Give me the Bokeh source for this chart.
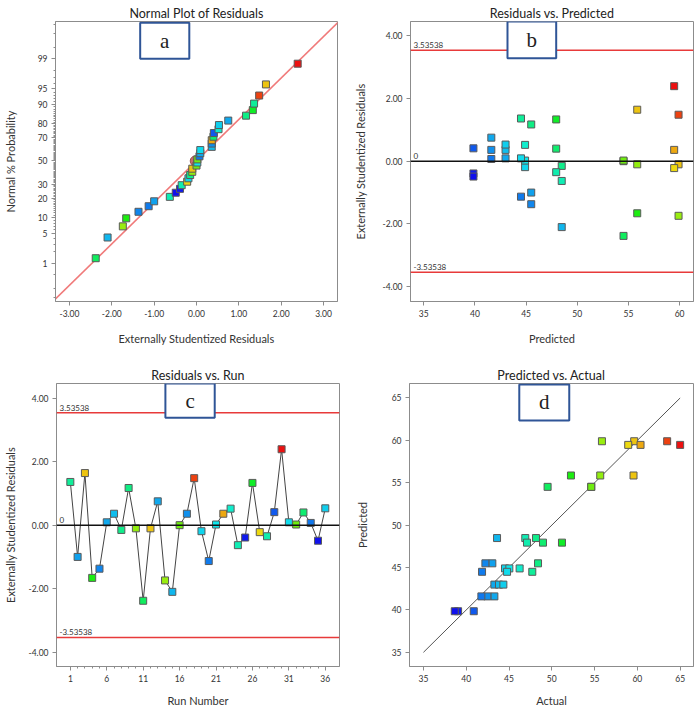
import colorsys
from statistics import NormalDist

from bokeh.plotting import figure
from bokeh.layouts import column, row
from bokeh.models import (ColumnDataSource, Range1d, FixedTicker, NumeralTickFormatter,
                          Span, Label, BoxAnnotation, CustomJSTickFormatter)
from bokeh.transform import linear_cmap
from bokeh.embed import file_html
from bokeh.resources import INLINE

# ---------------- data ----------------
run = list(range(1, 37))
residual = [1.36, -1.00, 1.64, -1.66, -1.37, 0.09, 0.36, -0.15, 1.17, -0.10,
            -2.38, -0.10, 0.75, -1.74, -2.10, 0.00, 0.36, 1.48, -0.19, -1.13,
            0.02, 0.36, 0.52, -0.63, -0.39, 1.33, -0.22, -0.35, 0.41, 2.39,
            0.09, 0.02, 0.40, 0.07, -0.49, 0.53]
predicted = [44.50, 45.50, 55.86, 55.86, 45.50, 42.99, 42.99, 48.48, 45.50, 55.86,
             54.52, 59.90, 41.60, 59.90, 48.48, 54.52, 41.60, 59.90, 44.90, 44.50,
             44.90, 59.47, 44.90, 48.48, 39.85, 47.94, 59.47, 47.94, 39.85, 59.47,
             44.50, 54.52, 47.94, 41.60, 39.85, 42.99]
actual = [47.72, 43.05, 59.55, 52.24, 42.24, 43.29, 43.83, 48.15, 48.39, 55.66,
          49.51, 59.63, 43.29, 55.86, 43.60, 54.61, 42.47, 63.48, 44.53, 41.85,
          45.04, 60.37, 46.24, 46.90, 39.05, 51.19, 58.93, 47.10, 40.88, 65.00,
          44.77, 54.61, 48.97, 41.77, 38.66, 44.34]
limit = 3.53538
normal_line_slope = 0.938

prob_major = [1, 5, 10, 20, 30, 50, 70, 80, 90, 95, 99]
prob_minor = ([0.1, 0.2, 0.5, 2, 3, 4, 6, 7, 8, 9] + list(range(11, 90))
              + [91, 92, 93, 94, 96, 97, 98, 99.5, 99.8, 99.9])
res_ticks = [-3, -2, -1, 0, 1, 2, 3]
stud_ticks = [-4, -2, 0, 2, 4]
pred_ticks = [35, 40, 45, 50, 55, 60]
run_ticks = [1, 6, 11, 16, 21, 26, 31, 36]
pa_ticks = [35, 40, 45, 50, 55, 60, 65]
diag = [35, 65]

# ---------------- styling ----------------
FONT = "Lato"
GRAY = "#8c8c8c"
TXT = "#333333"

palette = []
for i in range(256):
    h = 240.0 * (1 - i / 255) / 360.0
    r, g, b = colorsys.hsv_to_rgb(h, 0.93, 0.93)
    palette.append("#%02x%02x%02x" % (int(r * 255), int(g * 255), int(b * 255)))

cmap = linear_cmap("actual", palette, min(actual), max(actual))

nd = NormalDist()
n = len(residual)
order = sorted(range(n), key=lambda i: residual[i])
src_norm = ColumnDataSource(dict(
    res=[residual[i] for i in order],
    z=[nd.inv_cdf((k + 0.5) / n) for k in range(n)],
    actual=[actual[i] for i in order],
))
src = ColumnDataSource(dict(run=run, residual=residual, predicted=predicted, actual=actual))


def make_fig(title, w, h, xr, yr, borders):
    l, r, t, b = borders
    p = figure(width=w, height=h, x_range=Range1d(*xr), y_range=Range1d(*yr),
               output_backend="svg", toolbar_location=None, title=title,
               min_border_left=l, min_border_right=r, min_border_top=t, min_border_bottom=b)
    p.title.align = "center"
    p.title.text_font = FONT
    p.title.text_font_size = "12.5px"
    p.title.text_font_style = "normal"
    p.title.text_color = "#222222"
    p.title.standoff = 2
    p.outline_line_color = GRAY
    p.outline_line_width = 1
    p.xgrid.visible = False
    p.ygrid.visible = False
    for ax in p.axis:
        ax.axis_line_color = GRAY
        ax.major_tick_line_color = GRAY
        ax.minor_tick_line_color = None
        ax.major_tick_out = 4
        ax.major_tick_in = 0
        ax.minor_tick_out = 2
        ax.minor_tick_in = 0
        ax.major_label_text_font = FONT
        ax.major_label_text_font_size = "8.5px"
        ax.major_label_text_color = TXT
        ax.axis_label_text_font = FONT
        ax.axis_label_text_font_size = "11px"
        ax.axis_label_text_font_style = "normal"
        ax.axis_label_text_color = TXT
        ax.major_label_standoff = 4
    return p


def tag(p, letter, left, right, bottom, top):
    p.add_layout(BoxAnnotation(left=left, right=right, bottom=bottom, top=top,
                               fill_color="white", fill_alpha=1.0,
                               line_color="#2f5597", line_width=2, line_alpha=1.0))
    p.add_layout(Label(x=(left + right) / 2, y=(bottom + top) / 2, text=letter,
                       text_align="center", text_baseline="middle",
                       text_font="Liberation Serif", text_font_size="21px", text_color="#222222"))


def sq(p, x, y, source):
    p.scatter(x, y, source=source, marker="square", size=7, fill_color=cmap,
              line_color="#5a5a5a", line_width=1)


def limits(p, x0):
    for loc, txt, col in [(limit, "3.53538", "#e83a3a"), (-limit, "-3.53538", "#e83a3a"), (0, "0", "#111111")]:
        p.add_layout(Span(location=loc, dimension="width", line_color=col, line_width=1.5))
        p.add_layout(Label(x=x0, y=loc, text=txt, x_offset=3, y_offset=2, text_baseline="bottom",
                           text_font=FONT, text_font_size="8px", text_color=TXT))


# ---------------- (a) Normal plot ----------------
za = [nd.inv_cdf(v / 100) for v in prob_major]
zm = [nd.inv_cdf(v / 100) for v in prob_minor]
pa = make_fig("Normal Plot of Residuals", 350, 355, (-3.33, 3.33), (-3.18, 3.155), (55, 13, 21, 54))
pa.xaxis.axis_label = "Externally Studentized Residuals"
pa.yaxis.axis_label = "Normal % Probability"
pa.xaxis.ticker = FixedTicker(ticks=res_ticks)
pa.xaxis.formatter = NumeralTickFormatter(format="0.00")
pa.yaxis.ticker = FixedTicker(ticks=za, minor_ticks=zm)
pa.yaxis.minor_tick_line_color = GRAY
pa.yaxis.formatter = CustomJSTickFormatter(
    args=dict(zs=za, labs=[str(v) for v in prob_major]),
    code="let b=0; for (let i=0;i<zs.length;i++){ if (Math.abs(zs[i]-tick)<Math.abs(zs[b]-tick)) b=i; } return labs[b];")
pa.xaxis.axis_label_standoff = 12
pa.yaxis.axis_label_standoff = 18
lx = [-3.4, 3.4]
pa.line(lx, [normal_line_slope * v for v in lx], line_color="#f07a7a", line_width=1.6)
pa.scatter([-0.03], [0.0], size=10, marker="circle", fill_color="#c86a6a", line_color="#9a4a4a")
sq(pa, "res", "z", src_norm)
tag(pa, "a", -1.33, -0.17, 2.31, 3.125)

# ---------------- (b) Residuals vs Predicted ----------------
pb = make_fig("Residuals vs. Predicted", 350, 355, (33.7, 61.36), (-4.47, 4.45), (58, 7, 17, 51))
pb.xaxis.axis_label = "Predicted"
pb.yaxis.axis_label = "Externally Studentized Residuals"
pb.xaxis.ticker = FixedTicker(ticks=pred_ticks)
pb.yaxis.ticker = FixedTicker(ticks=stud_ticks)
pb.yaxis.formatter = NumeralTickFormatter(format="0.00")
pb.xaxis.axis_label_standoff = 12
pb.yaxis.axis_label_standoff = 13
limits(pb, 33.7)
sq(pb, "predicted", "residual", src)
tag(pb, "b", 43.18, 47.94, 3.28, 4.45)

# ---------------- (c) Residuals vs Run ----------------
pc = make_fig("Residuals vs. Run", 350, 356, (-0.9, 37.95), (-4.45, 4.46), (53, 11, 24, 45))
pc.xaxis.axis_label = "Run Number"
pc.yaxis.axis_label = "Externally Studentized Residuals"
pc.xaxis.ticker = FixedTicker(ticks=run_ticks, minor_ticks=run)
pc.xaxis.minor_tick_line_color = GRAY
pc.yaxis.ticker = FixedTicker(ticks=stud_ticks)
pc.yaxis.formatter = NumeralTickFormatter(format="0.00")
pc.xaxis.axis_label_standoff = 9
pc.yaxis.axis_label_standoff = 9
limits(pc, -0.9)
pc.line("run", "residual", source=src, line_color="#444444", line_width=1)
sq(pc, "run", "residual", src)
tag(pc, "c", 14.05, 20.82, 3.38, 4.46)

# ---------------- (d) Predicted vs Actual ----------------
pd_ = make_fig("Predicted vs. Actual", 350, 356, (33.37, 66.56), (33.33, 66.71), (59, 7, 28, 43))
pd_.xaxis.axis_label = "Actual"
pd_.yaxis.axis_label = "Predicted"
pd_.xaxis.ticker = FixedTicker(ticks=pa_ticks)
pd_.yaxis.ticker = FixedTicker(ticks=pa_ticks)
pd_.xaxis.axis_label_standoff = 9
pd_.yaxis.axis_label_standoff = 20
pd_.line(diag, diag, line_color="#555555", line_width=1)
sq(pd_, "actual", "predicted", src)
tag(pd_, "d", 46.2, 52.04, 62.35, 66.6)

layout = column(row(pa, pb), row(pc, pd_))
open("out.html", "w").write(file_html(layout, INLINE))
